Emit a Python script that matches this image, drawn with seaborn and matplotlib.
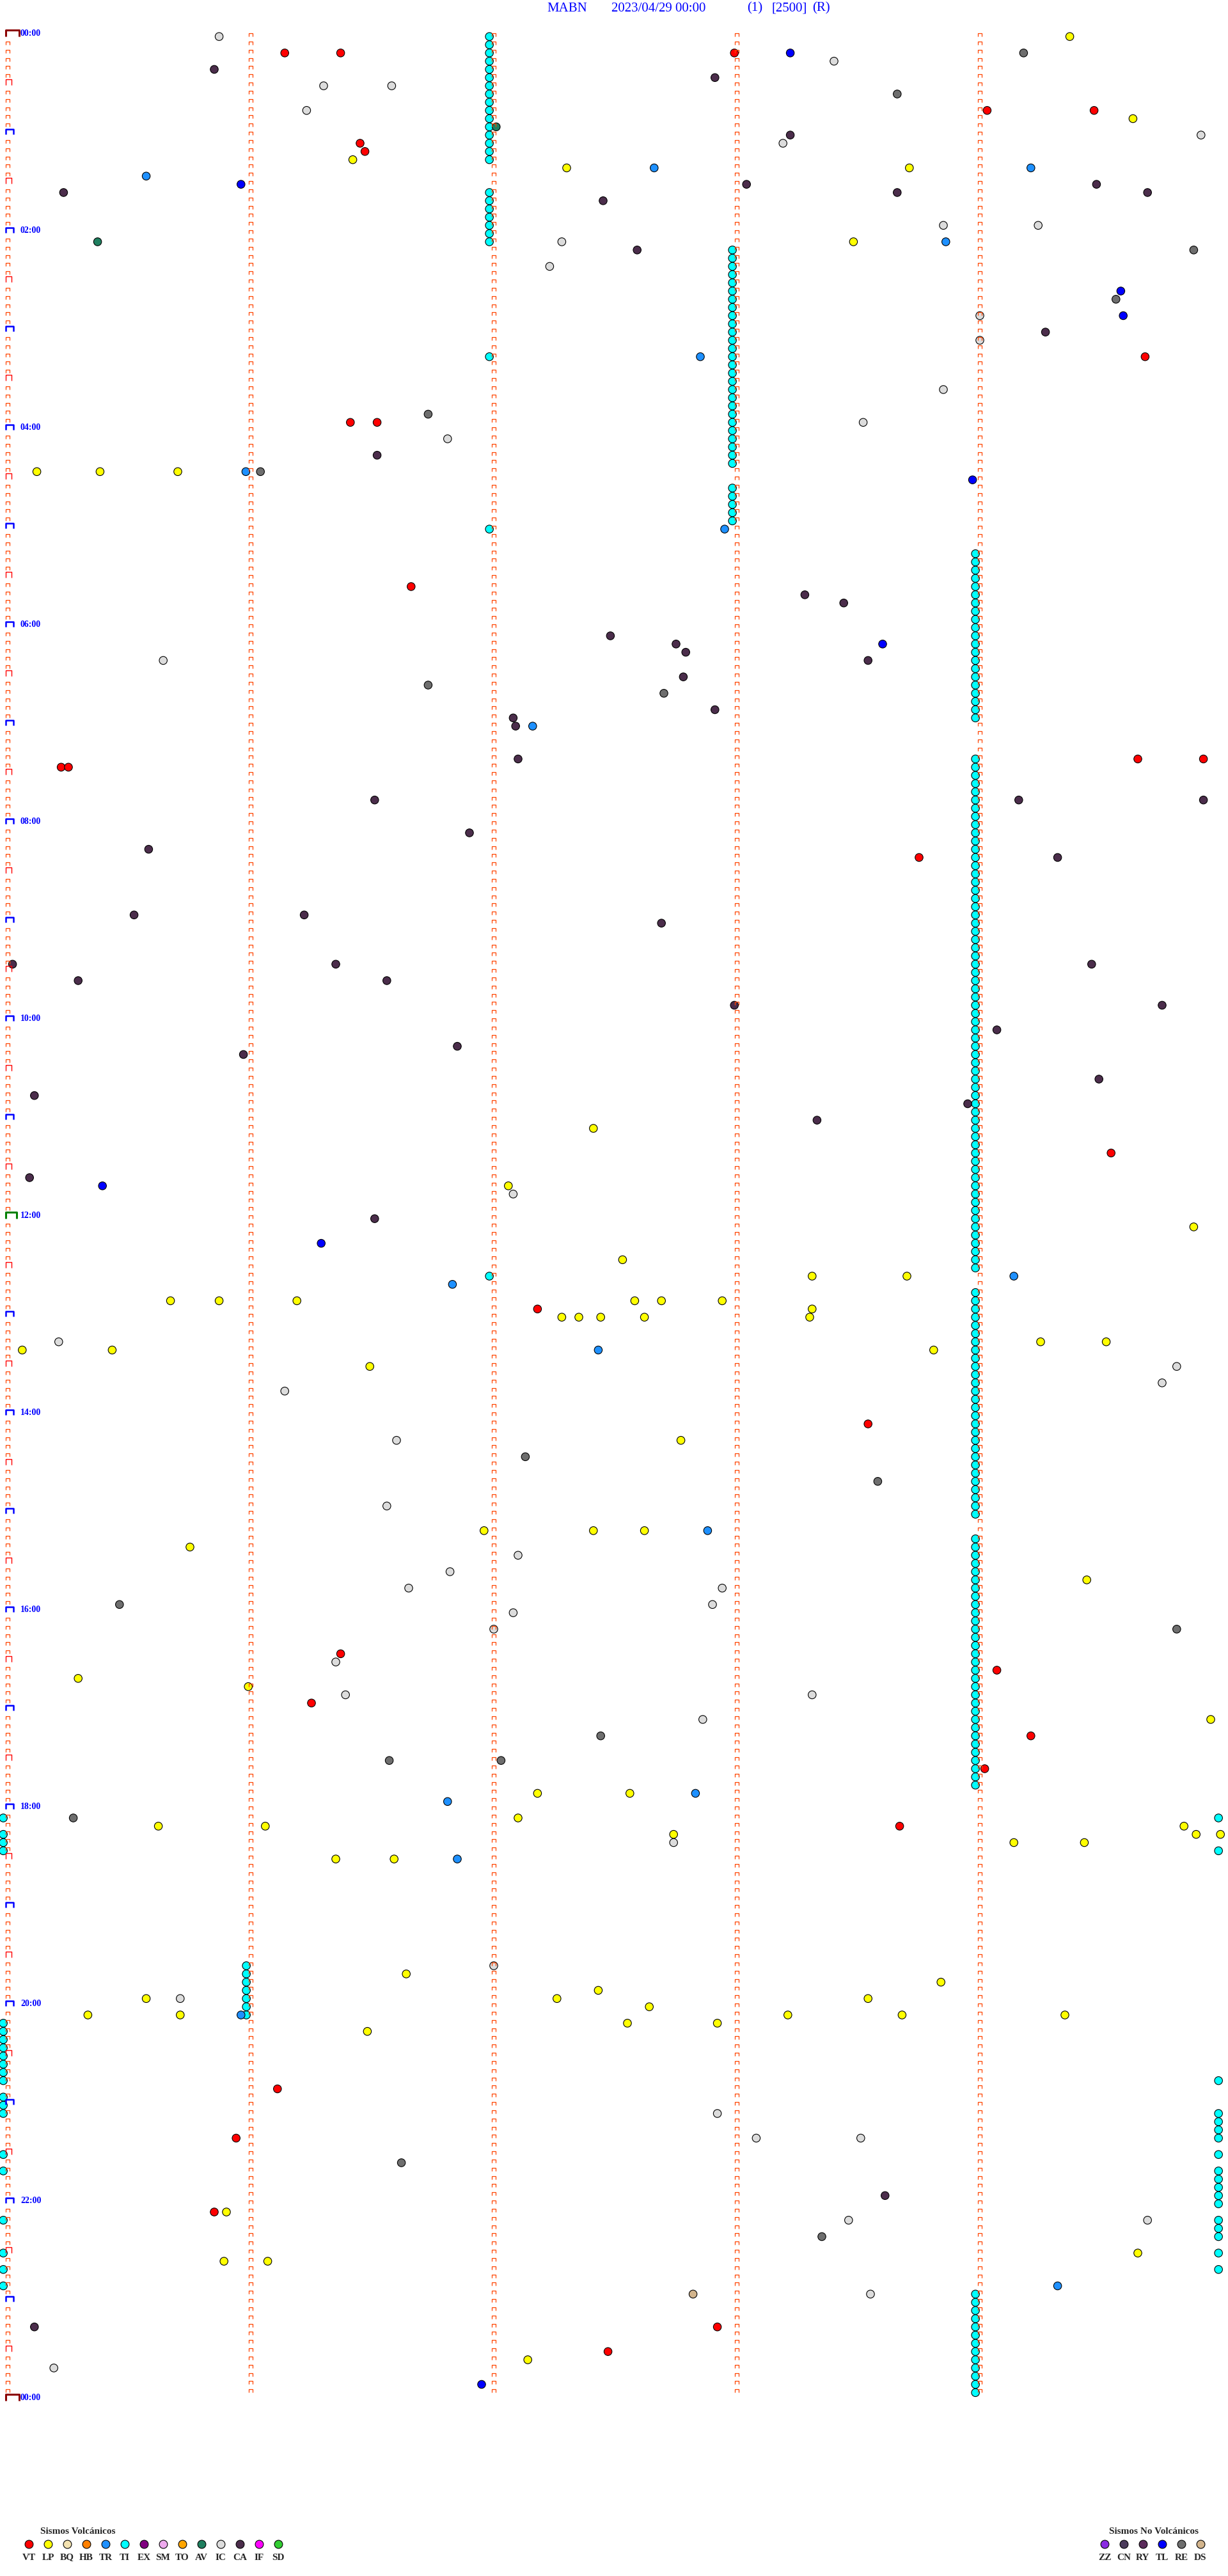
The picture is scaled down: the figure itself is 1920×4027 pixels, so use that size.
import matplotlib
matplotlib.use('Agg')
import matplotlib.pyplot as plt
from matplotlib.path import Path
import pandas as pd
import seaborn as sns

# Helicorder MABN 2023/04/29 - eventos clasificados
# tiempos en minutos desde las 00:00 (cada fila del registro = 5 minutos)

vt = [11.14, 11.37, 12.99, 49.03, 49.47, 66.45, 71.47, 199.68, 236.41, 236.52,
      336.66, 444.65, 444.92, 445.22, 445.25, 503.75, 684.54, 777.18, 848.54,
      986.37, 999.07, 1016.25, 1039.21, 1059.02, 1093.67, 1251.11, 1280.94,
      1325.85, 1397.92, 1412.47]

lp = [4.37, 54.63, 76.42, 82.30, 83.71, 128.48, 265.12, 265.38, 265.70, 667.41,
      702.06, 729.88, 747.53, 758.31, 758.70, 770.67, 770.87, 771.19, 772.58,
      772.69, 772.94, 778.31, 782.28, 782.35, 782.44, 782.62, 783.30, 799.25,
      799.52, 800.06, 800.43, 803.81, 811.49, 857.77, 911.96, 912.41, 912.62,
      920.75, 944.44, 1000.29, 1005.99, 1029.95, 1072.18, 1072.56, 1087.10,
      1090.62, 1091.06, 1094.84, 1097.74, 1099.89, 1099.99, 1104.14, 1104.43,
      1111.35, 1111.59, 1181.64, 1188.84, 1192.43, 1195.57, 1197.26, 1198.54,
      1202.64, 1205.33, 1205.71, 1208.21, 1208.68, 1209.35, 1212.55, 1212.92,
      1216.48, 1325.90, 1354.65, 1355.89, 1356.07, 1417.14]

tr = [82.66, 84.21, 85.57, 128.86, 197.85, 265.98, 302.95, 422.16, 759.14,
      761.83, 802.43, 912.88, 1072.83, 1076.81, 1111.85, 1205.96, 1374.32]

av = [57.01, 125.37]

ic = [0.87, 18.40, 31.30, 31.58, 46.23, 64.91, 68.19, 118.85, 119.24, 127.28,
      142.23, 174.00, 189.00, 218.85, 238.52, 246.81, 380.64, 707.08, 795.21,
      814.81, 824.75, 826.14, 856.60, 896.56, 927.10, 936.82, 946.65, 947.94,
      957.90, 962.08, 972.00, 991.35, 1011.39, 1013.31, 1027.86, 1102.74,
      1177.00, 1195.71, 1267.92, 1283.08, 1283.51, 1333.46, 1334.69, 1378.55,
      1420.19]

ca = [20.85, 27.91, 63.22, 93.04, 94.48, 95.23, 98.66, 99.69, 102.45, 132.59,
      184.27, 256.52, 343.28, 348.44, 367.48, 372.75, 377.79, 383.54, 392.78,
      412.91, 417.08, 422.09, 442.10, 466.51, 469.16, 469.92, 486.90, 495.58,
      504.32, 535.52, 536.22, 542.69, 565.02, 566.35, 569.46, 575.29, 576.56,
      592.99, 594.75, 609.07, 616.85, 620.97, 639.49, 645.11, 653.95, 663.33,
      695.09, 721.51, 1318.61, 1395.11]

tl = [13.22, 90.96, 159.58, 174.59, 273.97, 373.60, 700.39, 736.29, 1431.95]

re_ = [14.18, 38.66, 134.88, 164.56, 231.73, 266.04, 396.73, 402.70, 867.13,
       883.58, 955.46, 974.81, 1037.44, 1051.57, 1052.03, 1085.27, 1296.62,
       1343.35]

ds = [1377.82]

# tremor (TI): tramos de filas seguidas, marcado en el minuto indicado de la fila
ti_fila_ini = [0, 19, 39, 60, 151, 26, 55, 63, 88, 153, 183, 275, 235,
               217, 219, 242, 251, 258, 260, 266, 270, 272, 274,
               217, 221, 249, 253, 258, 260, 266, 270, 272]
ti_fila_fin = [15, 25, 39, 60, 151, 52, 59, 83, 150, 180, 213, 287, 241,
               217, 221, 249, 253, 258, 260, 266, 270, 272, 274,
               217, 221, 249, 256, 258, 264, 268, 270, 272]
ti_minuto = [2, 2, 2, 2, 2, 3, 3, 4, 4, 4, 4, 4, 1,
             0, 0, 0, 0, 0, 0, 0, 0, 0, 0,
             5, 5, 5, 5, 5, 5, 5, 5, 5]

tipos_volc = ['VT', 'LP', 'BQ', 'HB', 'TR', 'TI', 'EX', 'SM', 'TO', 'AV', 'IC', 'CA', 'IF', 'SD']
colores_volc = ['#ff0000', '#ffff00', '#f3e2b0', '#ff8000', '#1e90ff', '#00ffff', '#800080',
                '#eeaaee', '#ffa500', '#1f7f5f', '#dcdcdc', '#4b2d4b', '#ff00ff', '#32cd32']
tipos_novolc = ['ZZ', 'CN', 'RY', 'TL', 'RE', 'DS']
colores_novolc = ['#8a2be2', '#4b3b5b', '#5a2a5a', '#0000ff', '#6e6e6e', '#d2b48c']

titulo = ['MABN', '2023/04/29 00:00', '(1)', '[2500]', '(R)']
titulo_x = [855, 956, 1168, 1207, 1270]

# geometria del registro (pixeles)
W, H = 1920, 4027
X0, XMIN = 12, 380          # inicio de fila y pixeles por minuto
Y0, YFILA = 52, 3696 / 288  # 00:00 y alto de fila (5 min)
NFILAS = 288

sns.set_style('white')
plt.rcParams['font.family'] = ['Liberation Serif', 'DejaVu Serif']

# tabla de eventos
colores = dict(zip(tipos_volc + tipos_novolc, colores_volc + colores_novolc))
filas = []
for a, b, m in zip(ti_fila_ini, ti_fila_fin, ti_minuto):
    for f in range(a, b + 1):
        filas.append(('TI', m - 0.018, f + 0.4))
for tipo, tiempos in [('CA', ca), ('IC', ic), ('RE', re_), ('DS', ds), ('AV', av),
                      ('TL', tl), ('TR', tr), ('VT', vt), ('LP', lp)]:
    for t in tiempos:
        f = int(t // 5)
        filas.append((tipo, t - 5 * f, f + 0.4))
df = pd.DataFrame(filas, columns=['tipo', 'minuto', 'fila'])

fig = plt.figure(figsize=(W / 100, H / 100), dpi=100)
ax = fig.add_axes([0, 0, 1, 1])
ax.set_xlim(-X0 / XMIN, (W - X0) / XMIN)
ax.set_ylim((H - Y0) / YFILA, -Y0 / YFILA)
ax.axis('off')

# marcas de minuto (forma de corchete)
corchete = Path([(-0.5, -0.42), (-0.5, 0.42), (0.5, 0.42), (0.5, -0.42)],
                [Path.MOVETO, Path.LINETO, Path.LINETO, Path.LINETO])
mx, my = [], []
for f in range(NFILAS):
    for c in range(1, 5):
        mx.append(c)
        my.append(f + 0.2)
for f in range(NFILAS + 1):
    if f % 6:
        mx.append(0)
        my.append(f + 0.2)
ax.scatter(mx, my, marker=corchete, s=19, facecolors='none', edgecolors='#ff4500',
           linewidths=0.9, zorder=4)

sns.scatterplot(data=df, x='minuto', y='fila', hue='tipo', palette=colores, s=80,
                edgecolor='black', linewidth=0.8, legend=False, ax=ax, zorder=3)

# capa en pixeles para textos, marcas de hora y leyenda
ax2 = fig.add_axes([0, 0, 1, 1])
ax2.set_xlim(0, W)
ax2.set_ylim(H, 0)
ax2.axis('off')
ax2.patch.set_alpha(0)

for f in range(0, NFILAS + 1, 6):
    y = Y0 + f * YFILA
    if f in (0, NFILAS):
        col, xr, dy, lw = '#8b0000', 30, 5, 2.2
    elif f == 144:
        col, xr, dy, lw = '#008000', 26, 5, 2.2
    elif f % 12 == 0:
        col, xr, dy, lw = '#0000ff', 21, 4, 1.8
    else:
        col, xr, dy, lw = '#ff0000', 18, 4.5, 1.0
    ax2.plot([9, 9, xr, xr], [y + dy, y - dy, y - dy, y + dy], color=col, lw=lw,
             solid_capstyle='butt', zorder=5)
    if f % 24 == 0:
        ax2.text(32, y, f'{(f // 12) % 24:02d}:00', color='#0000ff', fontsize=10,
                 fontweight='bold', va='center', ha='left')

for txt, x in zip(titulo, titulo_x):
    ax2.text(x, 13, txt, color='#0000ff', fontsize=15, va='center', ha='left')

# leyendas
ax2.text(63, 3957, 'Sismos Volcánicos', fontsize=11, fontweight='bold', va='center')
for i, (tp, cl) in enumerate(zip(tipos_volc, colores_volc)):
    x = 45 + 30 * i
    ax2.scatter(x, 3977, s=85, color=cl, edgecolors='black', linewidths=0.8)
    ax2.text(x, 3998, tp, fontsize=11, fontweight='bold', ha='center', va='center')

ax2.text(1734, 3957, 'Sismos No Volcánicos', fontsize=11, fontweight='bold', va='center')
for i, (tp, cl) in enumerate(zip(tipos_novolc, colores_novolc)):
    x = 1727 + 30 * i
    ax2.scatter(x, 3977, s=85, color=cl, edgecolors='black', linewidths=0.8)
    ax2.text(x, 3998, tp, fontsize=11, fontweight='bold', ha='center', va='center')

fig.savefig('out.png', dpi=100, facecolor='white')
